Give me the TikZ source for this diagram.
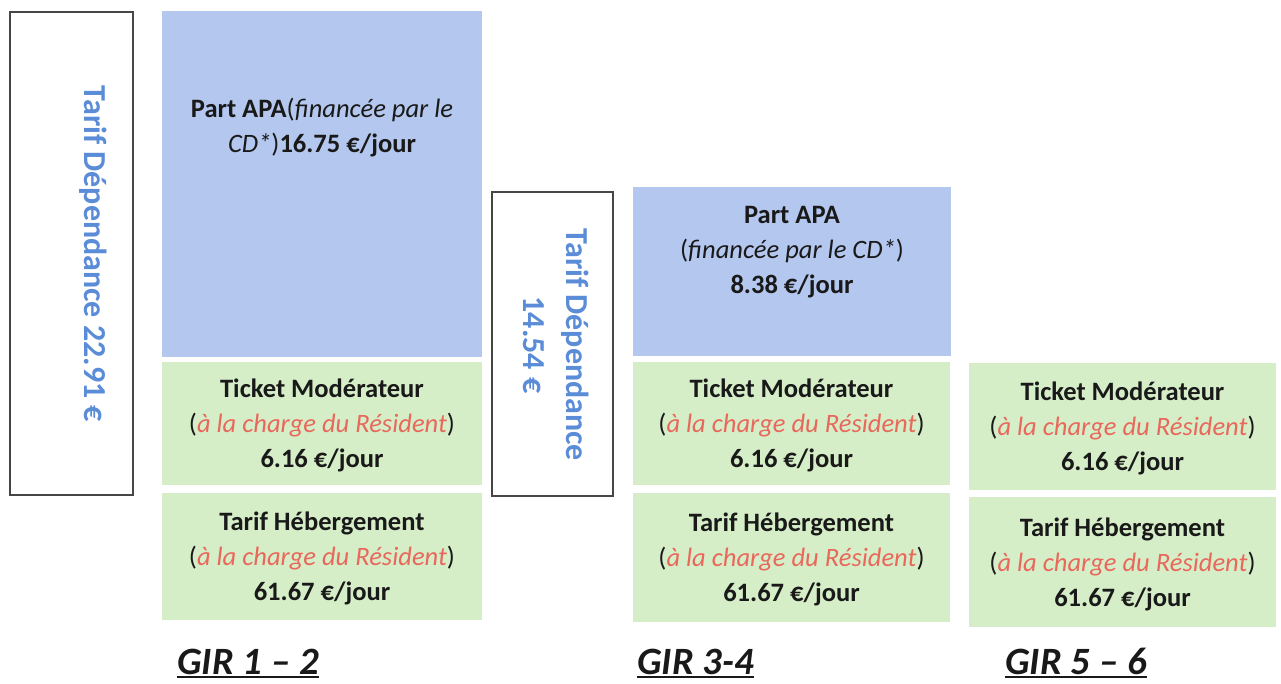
\documentclass[tikz,border=0pt]{standalone}
\usepackage{fontspec}
\setmainfont{Carlito}
\usetikzlibrary{fit}
\definecolor{apablue}{RGB}{180,199,238}
\definecolor{ltgreen}{RGB}{214,238,200}
\definecolor{depblue}{RGB}{90,140,216}
\definecolor{redtxt}{RGB}{232,104,91}
\definecolor{darktxt}{RGB}{25,25,25}
\definecolor{boxline}{RGB}{70,70,70}
\newcommand{\resid}{(\textcolor{redtxt}{\itshape à la charge du Résident})}
\tikzset{
  greenbox/.style={fill=ltgreen, inner sep=0pt},
  greentext/.style={align=center, text=darktxt, inner sep=0pt,
    font=\fontsize{19.9}{26.25}\selectfont},
  bluebox/.style={fill=apablue, inner sep=0pt},
  depbox/.style={draw=boxline, line width=1.1pt, fill=white, inner sep=0pt},
  deptext/.style={rotate=-90, text=depblue, align=center, inner sep=0pt,
    font=\fontsize{24}{32}\selectfont\bfseries},
  apatext/.style={text=darktxt, align=center, inner sep=0pt,
    font=\fontsize{19.9}{26.25}\selectfont},
  girlabel/.style={anchor=base west, inner sep=0pt, text=darktxt,
    font=\fontsize{29}{34}\selectfont\bfseries\itshape},
  girline/.style={draw=darktxt, line width=1.5pt}
}
\begin{document}
\begin{tikzpicture}[x=0.75pt,y=-0.75pt]
\useasboundingbox (0,0) rectangle (1281,683);
% GIR 1-2
\node[depbox, fit={(10,12)(133,495)}] (dep1) {};
\node[deptext] (dep1t) at (93,254) {Tarif Dépendance 22.91 €};
\node[bluebox, fit={(162,11)(482,357)}] (apa1) {};
\node[apatext, anchor=north] (apa1t) at (322,98) {\textbf{Part APA}(\textit{financée par le}\\\textit{CD*})\textbf{16.75 €/jour}};
\node[greenbox, fit={(162,362)(482,485)}] (tm1) {};
\node[greentext] (tm1t) at ([yshift=-1.6pt]tm1.center) {\textbf{Ticket Modérateur}\\\resid\\\textbf{6.16 €/jour}};
\node[greenbox, fit={(162,493)(482,620)}] (th1) {};
\node[greentext] (th1t) at ([yshift=-1.6pt]th1.center) {\textbf{Tarif Hébergement}\\\resid\\\textbf{61.67 €/jour}};
% GIR 3-4
\node[depbox, fit={(492,192)(613,496)}] (dep2) {};
\node[deptext] (dep2t) at (556,345) {Tarif Dépendance\\14.54 €};
\node[bluebox, fit={(633,187)(951,356)}] (apa2) {};
\node[apatext, anchor=north] (apa2t) at (792,206) {\textbf{Part APA}\\(\textit{financée par le CD*})\\\textbf{8.38 €/jour}};
\node[greenbox, fit={(633,362)(950,485)}] (tm2) {};
\node[greentext] (tm2t) at ([yshift=-1.6pt]tm2.center) {\textbf{Ticket Modérateur}\\\resid\\\textbf{6.16 €/jour}};
\node[greenbox, fit={(633,493)(950,622)}] (th2) {};
\node[greentext] (th2t) at ([yshift=-1.6pt]th2.center) {\textbf{Tarif Hébergement}\\\resid\\\textbf{61.67 €/jour}};
% GIR 5-6
\node[greenbox, fit={(969,363)(1276,490)}] (tm3) {};
\node[greentext] (tm3t) at ([yshift=-1.6pt]tm3.center) {\textbf{Ticket Modérateur}\\\resid\\\textbf{6.16 €/jour}};
\node[greenbox, fit={(969,497)(1276,627)}] (th3) {};
\node[greentext] (th3t) at ([yshift=-1.6pt]th3.center) {\textbf{Tarif Hébergement}\\\resid\\\textbf{61.67 €/jour}};
% labels
\node[girlabel] (g1) at (177,674) {GIR 1 – 2};
\node[girlabel] (g2) at (637,674) {GIR 3-4};
\node[girlabel] (g3) at (1005,674) {GIR 5 – 6};
\foreach \g in {g1,g2,g3}
  \path[girline] ([yshift=-2.6pt]\g.base west) -- ([yshift=-2.6pt]\g.base east);
\end{tikzpicture}
\end{document}
